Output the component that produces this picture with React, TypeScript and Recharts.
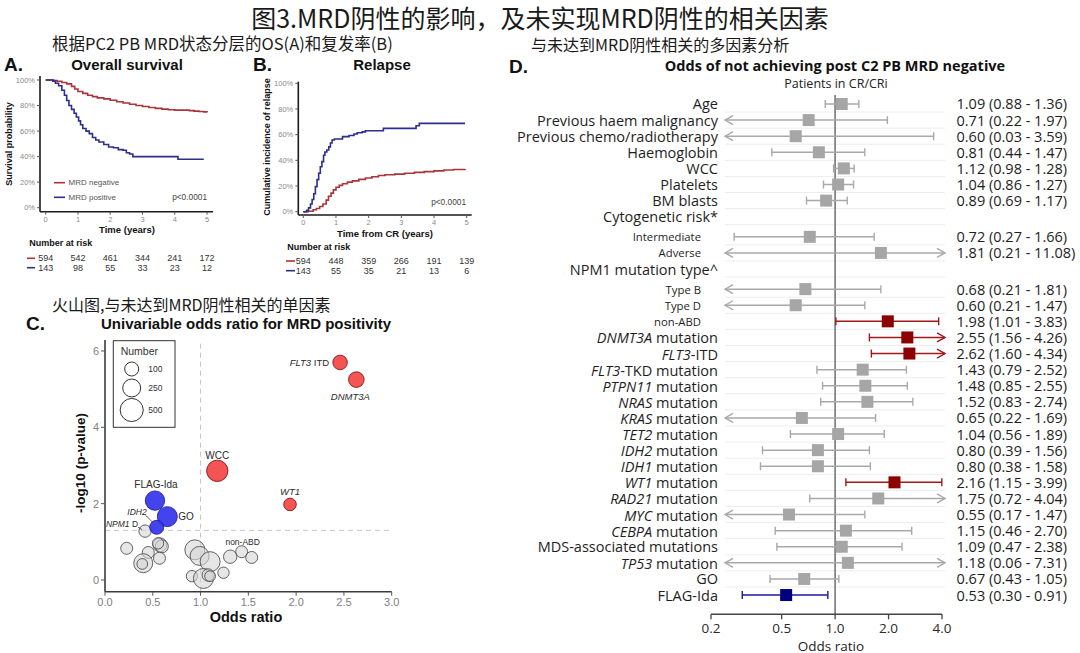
import React from 'react';
import { LineChart, Line, XAxis, YAxis, ScatterChart, Scatter, ZAxis, ReferenceLine } from 'recharts';

const W = 1080;
const H = 653;
const SANS = "'Liberation Sans', Arial, Helvetica, sans-serif";
const OPEN = "'Open Sans', 'Noto Sans', sans-serif";
const CJK = "'Noto Sans CJK SC', 'Noto Sans CJK JP', sans-serif";

const RED_KM = '#a8343c';
const BLUE_KM = '#2c2f8c';

// ---------------- Panel A: overall survival ----------------
const osNegT = [0, 0.25, 0.35, 0.5, 0.65, 0.8, 0.9, 1.0, 1.15, 1.3, 1.45, 1.6, 1.8, 2.0, 2.2, 2.4, 2.6, 2.8, 3.0, 3.2, 3.4, 3.6, 3.8, 4.0, 4.45, 4.6, 4.75, 4.9, 5.0];
const osNegS = [100, 99.6, 99, 98, 97, 95, 93, 91, 89.5, 88, 87, 86, 85.2, 84.2, 83, 82, 81, 80, 79.2, 78.5, 77.8, 77.2, 76.7, 76.4, 76, 75.6, 75.3, 75, 74.6];
const osPosT = [0, 0.22, 0.3, 0.4, 0.5, 0.58, 0.65, 0.72, 0.8, 0.88, 0.95, 1.02, 1.08, 1.15, 1.25, 1.35, 1.45, 1.55, 1.65, 1.8, 1.95, 2.1, 2.25, 2.4, 2.5, 2.6, 2.7, 4.1, 4.9];
const osPosS = [100, 99, 97.5, 95.5, 92, 88, 84, 80, 77, 74, 71, 68, 65, 62, 60, 58, 55, 53, 51.5, 49.5, 47.5, 47, 45.5, 45, 43, 42, 40, 38, 38];

// ---------------- Panel B: relapse ----------------
const relNegT = [0, 0.15, 0.3, 0.4, 0.5, 0.6, 0.7, 0.77, 0.85, 0.92, 1.0, 1.1, 1.2, 1.35, 1.5, 1.7, 1.9, 2.1, 2.3, 2.5, 2.8, 3.1, 3.4, 3.7, 4.0, 4.3, 4.6, 4.95];
const relNegC = [0, 0.3, 1.5, 2.5, 4, 6, 9, 12, 14.5, 17, 19, 20.5, 21.8, 23, 24, 25.2, 26.3, 27.2, 28.2, 28.8, 29.3, 30, 30.6, 31.2, 31.8, 32.5, 32.9, 33.3];
const relPosT = [0, 0.1, 0.16, 0.22, 0.27, 0.32, 0.37, 0.42, 0.47, 0.52, 0.57, 0.62, 0.66, 0.72, 0.78, 0.83, 0.88, 0.95, 1.2, 1.4, 1.55, 1.65, 1.8, 1.9, 2.45, 3.45, 3.55, 4.95];
const relPosC = [0, 1, 3, 6, 9.5, 14, 19.5, 25, 30, 35, 39, 44, 46.5, 48, 50.5, 53.5, 55.8, 56.6, 58.5, 59.3, 60.5, 61.5, 62.2, 63, 64.9, 66.9, 68.8, 68.8];

// number at risk
const riskTimes = [0, 1, 2, 3, 4, 5];
const osRiskNeg = [594, 542, 461, 344, 241, 172];
const osRiskPos = [143, 98, 55, 33, 23, 12];
const relRiskNeg = [594, 448, 359, 266, 191, 139];
const relRiskPos = [143, 55, 35, 21, 13, 6];
const kmTicksX = [0, 1, 2, 3, 4, 5];
const kmTicksY = [0, 20, 40, 60, 80, 100];

// ---------------- Panel C: volcano ----------------
const volcanoNames = ['FLT3 ITD', 'DNMT3A', 'WCC', 'WT1', 'FLAG-Ida', 'GO', 'IDH2', 'NPM1 D', 'non-ABD', '', '', '', '', '', '', '', '', '', '', '', '', '', '', '', '', '', ''];
const volcanoOR = [2.46, 2.63, 1.175, 1.936, 0.523, 0.652, 0.541, 0.419, 1.43, 0.227, 0.453, 0.4, 0.39, 0.575, 0.595, 0.57, 0.555, 0.94, 0.99, 1.1, 0.91, 1.03, 1.08, 1.1, 1.24, 1.31, 1.535];
const volcanoLogP = [5.7, 5.25, 2.86, 1.98, 2.08, 1.66, 1.38, 1.28, 0.74, 0.83, 0.72, 0.44, 0.42, 0.92, 0.88, 0.57, 0.96, 0.79, 0.63, 0.48, 0.1, 0.04, 0.13, 0.1, 0.19, 0.61, 0.59];
const volcanoN = [120, 156, 410, 56, 314, 343, 100, 48, 38, 38, 38, 296, 5, 100, 68, 38, 20, 343, 296, 343, 20, 343, 50, 5, 20, 80, 38];
const volcanoLegendN = [100, 250, 500];
const volcanoTicksX = [0, 0.5, 1, 1.5, 2, 2.5, 3];
const volcanoTicksY = [0, 2, 4, 6];
const P_THRESHOLD = 0.05;

// ---------------- Panel D: forest ----------------
const forestLabels = ['Age', 'Previous haem malignancy', 'Previous chemo/radiotherapy', 'Haemoglobin', 'WCC', 'Platelets', 'BM blasts', 'Cytogenetic risk*', 'Intermediate', 'Adverse', 'NPM1 mutation type^', 'Type B', 'Type D', 'non-ABD', 'DNMT3A mutation', 'FLT3-ITD', 'FLT3-TKD mutation', 'PTPN11 mutation', 'NRAS mutation', 'KRAS mutation', 'TET2 mutation', 'IDH2 mutation', 'IDH1 mutation', 'WT1 mutation', 'RAD21 mutation', 'MYC mutation', 'CEBPA mutation', 'MDS-associated mutations', 'TP53 mutation', 'GO', 'FLAG-Ida'];
const forestKinds = ['item', 'item', 'item', 'item', 'item', 'item', 'item', 'header', 'sub', 'sub', 'header', 'sub', 'sub', 'sub', 'item', 'item', 'item', 'item', 'item', 'item', 'item', 'item', 'item', 'item', 'item', 'item', 'item', 'item', 'item', 'item', 'item'];
const forestOR = [1.09, 0.71, 0.6, 0.81, 1.12, 1.04, 0.89, null, 0.72, 1.81, null, 0.68, 0.6, 1.98, 2.55, 2.62, 1.43, 1.48, 1.52, 0.65, 1.04, 0.8, 0.8, 2.16, 1.75, 0.55, 1.15, 1.09, 1.18, 0.67, 0.53];
const forestLo = [0.88, 0.22, 0.03, 0.44, 0.98, 0.86, 0.69, null, 0.27, 0.21, null, 0.21, 0.21, 1.01, 1.56, 1.6, 0.79, 0.85, 0.83, 0.22, 0.56, 0.39, 0.38, 1.15, 0.72, 0.17, 0.46, 0.47, 0.06, 0.43, 0.3];
const forestHi = [1.36, 1.97, 3.59, 1.47, 1.28, 1.27, 1.17, null, 1.66, 11.08, null, 1.81, 1.47, 3.83, 4.26, 4.34, 2.52, 2.55, 2.74, 1.69, 1.89, 1.56, 1.58, 3.99, 4.04, 1.47, 2.7, 2.38, 7.31, 1.05, 0.91];
const forestTicks = [0.2, 0.5, 1, 2, 4];
const ITALIC_GENES = ['DNMT3A', 'FLT3', 'PTPN11', 'NRAS', 'KRAS', 'TET2', 'IDH2', 'IDH1', 'WT1', 'RAD21', 'MYC', 'CEBPA', 'TP53', 'NPM1'];

// ---------------- helpers ----------------
const abs: React.CSSProperties = { position: 'absolute', left: 0, top: 0 };

function geneText(label: string, allow = true) {
  const g = allow ? ITALIC_GENES.find((x) => label === x || label.startsWith(x + ' ') || label.startsWith(x + '-')) : undefined;
  if (!g) return label;
  return (
    <>
      <tspan fontStyle="italic">{g}</tspan>
      {label.length > g.length ? <tspan>{label.slice(g.length)}</tspan> : null}
    </>
  );
}

type Plot = { x0: number; x1: number; y0: number; y1: number; xDom: [number, number]; yDom: [number, number] };

const A_PLOT: Plot = { x0: 40, x1: 213, y0: 76, y1: 211.7, xDom: [-0.177, 5.186], yDom: [-3.13, 103.13] };
const B_PLOT: Plot = { x0: 298.3, x1: 471.7, y0: 81.7, y1: 215, xDom: [-0.153, 5.153], yDom: [-2.57, 101.25] };

function KM({ plot, a, b }: { plot: Plot; a: { t: number; v: number }[]; b: { t: number; v: number }[] }) {
  const xh = 20;
  const yw = 20;
  return (
    <div style={abs}>
      <LineChart width={W} height={H} margin={{ top: plot.y0, left: plot.x0 - yw, right: W - plot.x1, bottom: H - plot.y1 - xh }}>
        <XAxis type="number" dataKey="t" domain={plot.xDom} ticks={kmTicksX} height={xh} tickSize={3} tickMargin={2}
          tick={{ fontSize: 7.5, fill: '#8a8a8a', fontFamily: SANS }} tickLine={{ stroke: '#555' }} axisLine={{ stroke: '#1a1a1a', strokeWidth: 1.6 }} />
        <YAxis type="number" dataKey="v" domain={plot.yDom} ticks={kmTicksY} width={yw} tickSize={3} tickMargin={2}
          tickFormatter={(v: number) => `${v}%`} tick={{ fontSize: 7.5, fill: '#8a8a8a', fontFamily: SANS }}
          tickLine={{ stroke: '#555' }} axisLine={{ stroke: '#1a1a1a', strokeWidth: 1.6 }} />
        <Line data={a} dataKey="v" type="stepAfter" stroke={RED_KM} strokeWidth={1.6} dot={false} isAnimationActive={false} />
        <Line data={b} dataKey="v" type="stepAfter" stroke={BLUE_KM} strokeWidth={1.6} dot={false} isAnimationActive={false} />
      </LineChart>
    </div>
  );
}

function RiskTable({ plot, rowY, rows }: { plot: Plot; rowY: [number, number]; rows: number[][] }) {
  const data = rows.flatMap((vals, r) => vals.map((n, i) => ({ t: riskTimes[i], r, n })));
  return (
    <div style={abs}>
      <ScatterChart width={W} height={H} margin={{ top: rowY[0], left: plot.x0, right: W - plot.x1, bottom: H - rowY[1] }}>
        <XAxis type="number" dataKey="t" domain={plot.xDom} hide />
        <YAxis type="number" dataKey="r" domain={[0, 1]} reversed hide />
        <Scatter data={data} isAnimationActive={false}
          shape={(p: any) => (
            <text x={p.cx} y={p.cy} textAnchor="middle" dominantBaseline="central" fontFamily={SANS} fontSize={9} fill="#333">
              {p.payload.n}
            </text>
          )} />
      </ScatterChart>
    </div>
  );
}

// ---------- volcano ----------
const Z_DOMAIN: [number, number] = [0, 600];
const Z_RANGE: [number, number] = [88, 484];
const bubbleR = (n: number) => Math.sqrt((Z_RANGE[0] + ((Z_RANGE[1] - Z_RANGE[0]) * (n - Z_DOMAIN[0])) / (Z_DOMAIN[1] - Z_DOMAIN[0])) / Math.PI);

const volcanoPts = volcanoNames.map((name, i) => {
  const sig = volcanoLogP[i] > -Math.log10(P_THRESHOLD);
  const group = !sig ? 'ns' : volcanoOR[i] > 1 ? 'up' : 'down';
  return { name, x: volcanoOR[i], y: volcanoLogP[i], n: volcanoN[i], group };
});

const BUBBLE_STYLE: Record<string, { fill: string; stroke: string; op: number }> = {
  ns: { fill: '#d6d6d6', stroke: '#4a4a4a', op: 0.6 },
  up: { fill: '#f24545', stroke: '#7e1414', op: 0.92 },
  down: { fill: '#3434ee', stroke: '#1e1e96', op: 0.92 },
};

const LABEL_STYLE: Record<string, { dx: number; dy: number; anchor: 'start' | 'middle' | 'end'; size: number; lead?: [number, number, number, number] }> = {
  'FLT3 ITD': { dx: -11, dy: 0, anchor: 'end', size: 9.5 },
  DNMT3A: { dx: -6, dy: 16, anchor: 'middle', size: 9.5 },
  WCC: { dx: 0, dy: -15, anchor: 'middle', size: 10 },
  WT1: { dx: 0, dy: -13, anchor: 'middle', size: 9.5 },
  'FLAG-Ida': { dx: 1, dy: -16, anchor: 'middle', size: 10 },
  GO: { dx: 11, dy: 0, anchor: 'start', size: 10 },
  IDH2: { dx: -10, dy: -15.5, anchor: 'end', size: 8.5, lead: [-11, -12, -4, -5] },
  'NPM1 D': { dx: -7, dy: -7, anchor: 'end', size: 8.5, lead: [-7, -4, -3, -1.5] },
  'non-ABD': { dx: 1, dy: -10, anchor: 'middle', size: 8.5 },
};

const BubbleShape = (p: any) => {
  const r = p.width ? p.width / 2 : Math.sqrt((p.size ?? 64) / Math.PI);
  const s = BUBBLE_STYLE[p.payload.group];
  return <circle cx={p.cx} cy={p.cy} r={r} fill={s.fill} fillOpacity={s.op} stroke={s.stroke} strokeOpacity={0.85} strokeWidth={1} />;
};

const BubbleLabel = (p: any) => {
  const st = LABEL_STYLE[p.payload.name];
  if (!st) return <g />;
  return (
    <g>
      {st.lead ? <line x1={p.cx + st.lead[0]} y1={p.cy + st.lead[1]} x2={p.cx + st.lead[2]} y2={p.cy + st.lead[3]} stroke="#333" strokeWidth={0.8} /> : null}
      <text x={p.cx + st.dx} y={p.cy + st.dy} textAnchor={st.anchor} dominantBaseline="central" fontFamily={SANS} fontSize={st.size} fill="#2a2a2a">
        {geneText(p.payload.name)}
      </text>
    </g>
  );
};

function Volcano() {
  const plot = { x0: 105, x1: 391.7, y0: 340, y1: 591.7 };
  const xh = 25;
  const yw = 30;
  const axisCol = '#3a3a3a';
  return (
    <div style={abs}>
      <ScatterChart width={W} height={H} margin={{ top: plot.y0, left: plot.x0 - yw, right: W - plot.x1, bottom: H - plot.y1 - xh }}>
        <XAxis type="number" dataKey="x" domain={[0, 3]} ticks={volcanoTicksX} tickFormatter={(v: number) => v.toFixed(1)} height={xh}
          tickSize={4} tickMargin={2} tick={{ fontSize: 11, fill: '#808080', fontFamily: SANS }} tickLine={{ stroke: '#555' }} axisLine={{ stroke: axisCol, strokeWidth: 1.6 }} />
        <YAxis type="number" dataKey="y" domain={[-0.307, 6.288]} ticks={volcanoTicksY} width={yw}
          tickSize={4} tickMargin={2} tick={{ fontSize: 11, fill: '#808080', fontFamily: SANS }} tickLine={{ stroke: '#555' }} axisLine={{ stroke: axisCol, strokeWidth: 1.6 }} />
        <ZAxis type="number" dataKey="n" domain={Z_DOMAIN} range={Z_RANGE} />
        <ReferenceLine x={1} stroke="#c4c4c4" strokeDasharray="5 4" strokeWidth={1} />
        <ReferenceLine y={-Math.log10(P_THRESHOLD)} stroke="#c4c4c4" strokeDasharray="5 4" strokeWidth={1} />
        <Scatter data={volcanoPts.filter((d) => d.group === 'ns')} shape={BubbleShape} isAnimationActive={false} />
        <Scatter data={volcanoPts.filter((d) => d.group !== 'ns')} shape={BubbleShape} isAnimationActive={false} />
        <Scatter data={volcanoPts.filter((d) => d.name !== '')} shape={BubbleLabel} isAnimationActive={false} />
      </ScatterChart>
    </div>
  );
}

// ---------- forest ----------
const LEFT_TIP = 0.24;
const RIGHT_LIMIT = 4.0;
const RIGHT_TIP = 4.16;

const forestPos: number[] = [];
{
  let acc = 0;
  forestKinds.forEach((k) => {
    forestPos.push(acc);
    acc += k === 'header' ? 1.25 : 1;
  });
}

const forestRows = forestLabels.map((label, i) => ({
  label,
  kind: forestKinds[i],
  y: forestPos[i],
  or: forestOR[i],
  lo: forestLo[i],
  hi: forestHi[i],
}));
const forestData = forestRows.filter((r) => r.or !== null) as { label: string; kind: string; y: number; or: number; lo: number; hi: number }[];
const sigColor = (r: { lo: number; hi: number }) => (r.lo > 1 ? 'up' : r.hi < 1 ? 'down' : 'ns');
const F_LINE: Record<string, string> = { ns: '#a9a9a9', up: '#a11a1a', down: '#1a1a9a' };
const F_BOX: Record<string, string> = { ns: '#a6a6a6', up: '#8b0000', down: '#00007f' };

const EndShape = (p: any) => {
  const { cx, cy, payload } = p;
  const c = payload.color;
  if (payload.kind === 'cap') return <line x1={cx} x2={cx} y1={cy - 4} y2={cy + 4} stroke={c} strokeWidth={1.4} />;
  const d = payload.kind === 'arrowL' ? 1 : -1;
  return <polyline points={`${cx + 8 * d},${cy - 4.5} ${cx},${cy} ${cx + 8 * d},${cy + 4.5}`} fill="none" stroke={c} strokeWidth={1.4} />;
};

const SquareShape = (p: any) => {
  const s = 12;
  return <rect x={p.cx - s / 2} y={p.cy - s / 2} width={s} height={s} fill={p.payload.color} />;
};

const LabelShape = (p: any) => {
  const { cx, cy, payload } = p;
  const sub = payload.kind === 'sub';
  return (
    <text x={sub ? cx - 10 : cx + 7} y={cy} textAnchor="end" dominantBaseline="central" fontFamily={OPEN} fontSize={sub ? 11.3 : 14.5} fill="#1e1e1e">
      {geneText(payload.label, payload.kind === 'item')}
    </text>
  );
};

const ValueShape = (p: any) => {
  const { cx, cy, payload } = p;
  return (
    <text x={cx + 14.5} y={cy} textAnchor="start" dominantBaseline="central" fontFamily={OPEN} fontSize={14.5} fill="#1e1e1e">
      {`${payload.or.toFixed(2)} (${payload.lo.toFixed(2)} - ${payload.hi.toFixed(2)})`}
    </text>
  );
};

function Forest() {
  const plot = { x0: 702.86, x1: 949.37, y0: 95, y1: 614.3 };
  const yDom: [number, number] = [-0.559, 31.696];
  const xh = 30;
  const ends = forestData.flatMap((r) => {
    const c = F_LINE[sigColor(r)];
    return [
      { x: Math.max(r.lo, LEFT_TIP), y: r.y, kind: r.lo < LEFT_TIP ? 'arrowL' : 'cap', color: c },
      { x: r.hi > RIGHT_LIMIT ? RIGHT_TIP : r.hi, y: r.y, kind: r.hi > RIGHT_LIMIT ? 'arrowR' : 'cap', color: c },
    ];
  });
  const boxes = forestData.map((r) => ({ x: r.or, y: r.y, color: F_BOX[sigColor(r)] }));
  const labels = forestRows.map((r) => ({ x: forestTicks[0], y: r.y, label: r.label, kind: r.kind }));
  const values = forestData.map((r) => ({ x: forestTicks[forestTicks.length - 1], y: r.y, or: r.or, lo: r.lo, hi: r.hi }));
  return (
    <div style={abs}>
      <ScatterChart width={W} height={H} margin={{ top: plot.y0, left: plot.x0, right: W - plot.x1, bottom: H - plot.y1 - xh }}>
        <XAxis type="number" dataKey="x" scale="log" domain={[0.18, 4.4]} ticks={forestTicks} tickFormatter={(v: number) => v.toFixed(1)}
          height={xh} axisLine={false} tickSize={5} tickMargin={4} tickLine={{ stroke: '#444', strokeWidth: 1.3 }}
          tick={{ fontSize: 13.5, fill: '#2a2a2a', fontFamily: OPEN }} />
        <YAxis type="number" dataKey="y" domain={yDom} reversed hide />
        {forestRows.slice(0, -1).map((r, i) => (
          <ReferenceLine key={`g${i}`} segment={[{ x: LEFT_TIP, y: r.y + 0.5 }, { x: RIGHT_TIP, y: r.y + 0.5 }]} stroke="#ededed" strokeWidth={1} ifOverflow="visible" />
        ))}
        <ReferenceLine x={1} stroke="#777" strokeWidth={1.6} />
        <ReferenceLine segment={[{ x: forestTicks[0], y: yDom[1] }, { x: forestTicks[forestTicks.length - 1], y: yDom[1] }]} stroke="#444" strokeWidth={1.5} ifOverflow="visible" />
        {forestData.map((r, i) => (
          <ReferenceLine key={`ci${i}`} segment={[{ x: Math.max(r.lo, LEFT_TIP), y: r.y }, { x: r.hi > RIGHT_LIMIT ? RIGHT_TIP : r.hi, y: r.y }]}
            stroke={F_LINE[sigColor(r)]} strokeWidth={1.5} ifOverflow="visible" />
        ))}
        <Scatter data={ends} shape={EndShape} isAnimationActive={false} />
        <Scatter data={boxes} shape={SquareShape} isAnimationActive={false} />
        <Scatter data={labels} shape={LabelShape} isAnimationActive={false} />
        <Scatter data={values} shape={ValueShape} isAnimationActive={false} />
      </ScatterChart>
    </div>
  );
}

function Overlay() {
  const t = { dominantBaseline: 'central' as const };
  const bold = { fontFamily: SANS, fontWeight: 700 as const, fill: '#111' };
  const legendCx = 131.7;
  const legendCy = [369, 388, 410];
  return (
    <svg width={W} height={H} style={{ position: 'absolute', left: 0, top: 0, pointerEvents: 'none' }}>
      {/* titles */}
      <text {...t} x={540} y={17} textAnchor="middle" fontFamily={CJK} fontSize={25} fill="#1a1a1a">图3.MRD阴性的影响，及未实现MRD阴性的相关因素</text>
      <text {...t} x={52} y={43} fontFamily={CJK} fontSize={16.5} fill="#1a1a1a">根据PC2 PB MRD状态分层的OS(A)和复发率(B)</text>
      <text {...t} x={531} y={44} fontFamily={CJK} fontSize={16} fill="#1a1a1a">与未达到MRD阴性相关的多因素分析</text>
      <text {...t} x={52} y={304} fontFamily={CJK} fontSize={16} fill="#1a1a1a">火山图,与未达到MRD阴性相关的单因素</text>

      {/* panel A */}
      <text {...t} {...bold} x={4} y={64} fontSize={19}>A.</text>
      <text {...t} {...bold} x={127} y={64} fontSize={15} textAnchor="middle">Overall survival</text>
      <text {...t} {...bold} x={127} y={229.5} fontSize={9.5} textAnchor="middle">Time (years)</text>
      <text {...t} {...bold} x={0} y={0} fontSize={9} textAnchor="middle" transform="translate(8.5,144) rotate(-90)">Survival probability</text>
      <line x1={54} x2={65} y1={182.7} y2={182.7} stroke={RED_KM} strokeWidth={1.6} />
      <line x1={54} x2={65} y1={197.3} y2={197.3} stroke={BLUE_KM} strokeWidth={1.6} />
      <text {...t} x={68.5} y={182.7} fontFamily={SANS} fontSize={8} fill="#555">MRD negative</text>
      <text {...t} x={68.5} y={197.3} fontFamily={SANS} fontSize={8} fill="#555">MRD positive</text>
      <text {...t} x={207} y={197.3} textAnchor="end" fontFamily={SANS} fontSize={8.3} fill="#444">p&lt;0.0001</text>
      <text {...t} {...bold} x={29.3} y={243.3} fontSize={9}>Number at risk</text>
      <line x1={27} x2={35} y1={258.3} y2={258.3} stroke={RED_KM} strokeWidth={1.6} />
      <line x1={27} x2={35} y1={267.7} y2={267.7} stroke={BLUE_KM} strokeWidth={1.6} />

      {/* panel B */}
      <text {...t} {...bold} x={253} y={64} fontSize={19}>B.</text>
      <text {...t} {...bold} x={382} y={64} fontSize={15} textAnchor="middle">Relapse</text>
      <text {...t} {...bold} x={385} y={233} fontSize={9.5} textAnchor="middle">Time from CR (years)</text>
      <text {...t} {...bold} x={0} y={0} fontSize={9} textAnchor="middle" transform="translate(267,147) rotate(-90)">Cumulative incidence of relapse</text>
      <text {...t} x={466} y={202.3} textAnchor="end" fontFamily={SANS} fontSize={8.3} fill="#444">p&lt;0.0001</text>
      <text {...t} {...bold} x={287.3} y={247.3} fontSize={9}>Number at risk</text>
      <line x1={286} x2={295} y1={261} y2={261} stroke={RED_KM} strokeWidth={1.6} />
      <line x1={286} x2={295} y1={270.7} y2={270.7} stroke={BLUE_KM} strokeWidth={1.6} />

      {/* panel C */}
      <text {...t} {...bold} x={26} y={323} fontSize={19}>C.</text>
      <text {...t} {...bold} x={246} y={323} fontSize={15} textAnchor="middle">Univariable odds ratio for MRD positivity</text>
      <text {...t} {...bold} x={246} y={617} fontSize={14.5} textAnchor="middle">Odds ratio</text>
      <text {...t} {...bold} x={0} y={0} fontSize={13.5} textAnchor="middle" transform="translate(80,463) rotate(-90)">-log10 (p-value)</text>
      <rect x={113.3} y={340.7} width={61.7} height={86.6} fill="#fff" stroke="#333" strokeWidth={1} />
      <text {...t} x={120.7} y={351} fontFamily={SANS} fontSize={10.5} fill="#333">Number</text>
      {volcanoLegendN.map((n, i) => (
        <g key={n}>
          <circle cx={legendCx} cy={legendCy[i]} r={bubbleR(n)} fill="#fff" stroke="#333" strokeWidth={1} />
          <text {...t} x={148.3} y={legendCy[i]} fontFamily={SANS} fontSize={8.5} fill="#333">{n}</text>
        </g>
      ))}

      {/* panel D */}
      <text {...t} {...bold} x={509} y={66} fontSize={19}>D.</text>
      <text {...t} x={835} y={65} textAnchor="middle" fontFamily={OPEN} fontWeight={700} fontSize={14.5} fill="#111">Odds of not achieving post C2 PB MRD negative</text>
      <text {...t} x={836} y={83} textAnchor="middle" fontFamily={OPEN} fontSize={12.5} fill="#222">Patients in CR/CRi</text>
      <text {...t} x={831} y={645.5} textAnchor="middle" fontFamily={OPEN} fontSize={13.5} fill="#222">Odds ratio</text>
    </svg>
  );
}

const zip = (t: number[], v: number[]) => t.map((x, i) => ({ t: x, v: v[i] }));

export default function App() {
  return (
    <div style={{ position: 'absolute', left: 0, top: 0, width: W, height: H, background: '#fff', overflow: 'hidden' }}>
      <KM plot={A_PLOT} a={zip(osNegT, osNegS)} b={zip(osPosT, osPosS)} />
      <RiskTable plot={A_PLOT} rowY={[258.3, 267.7]} rows={[osRiskNeg, osRiskPos]} />
      <KM plot={B_PLOT} a={zip(relNegT, relNegC)} b={zip(relPosT, relPosC)} />
      <RiskTable plot={B_PLOT} rowY={[261, 270.7]} rows={[relRiskNeg, relRiskPos]} />
      <Volcano />
      <Forest />
      <Overlay />
    </div>
  );
}
